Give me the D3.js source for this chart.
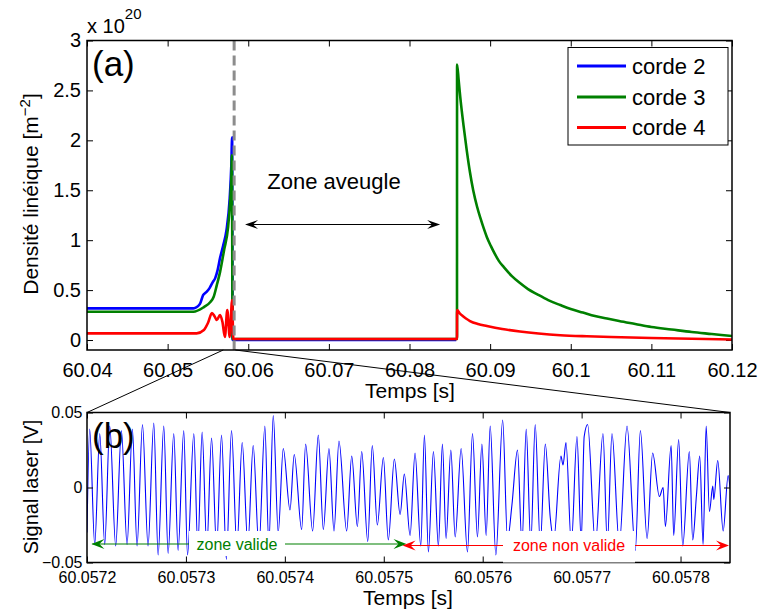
<!DOCTYPE html>
<html><head><meta charset="utf-8">
<script src="https://cdn.jsdelivr.net/npm/d3@7"></script>
<style>
body{margin:0;background:#fff;}
svg{display:block;font-family:"Liberation Sans",Arial,Helvetica,sans-serif;}
</style></head><body>
<svg id="c" width="764" height="615"></svg>
<script>
// ---------- DATA (panel a) ----------
const seriesNames = ["corde 2", "corde 3", "corde 4"];
const seriesColors = ["#0000ff", "#008000", "#ff0000"];
const c2Time = [60.04, 60.0532, 60.0540, 60.0544, 60.0548, 60.0552, 60.0556, 60.0559, 60.0562, 60.0565, 60.0569, 60.0573, 60.0577, 60.0579, 60.05800, 60.05806, 60.0858];
const c2Value = [0.317, 0.317, 0.36, 0.45, 0.48, 0.52, 0.58, 0.62, 0.70, 0.82, 0.95, 1.10, 1.42, 1.75, 2.03, 0.0, 0.0];
const c3Time = [60.04, 60.0532, 60.0545, 60.0553, 60.0557, 60.0561, 60.0565, 60.0570, 60.0575, 60.0578, 60.0579, 60.05797, 60.05806, 60.08589, 60.0859, 60.0861, 60.0863, 60.0867, 60.0871, 60.0875, 60.0879, 60.0884, 60.0888, 60.0892, 60.0896, 60.0901, 60.0906, 60.0911, 60.0917, 60.0927, 60.0937, 60.0947, 60.0958, 60.0972, 60.0987, 60.1000, 60.1015, 60.1030, 60.1045, 60.1060, 60.1080, 60.1100, 60.1125, 60.1150, 60.1175, 60.1200];
const c3Value = [0.283, 0.283, 0.33, 0.38, 0.43, 0.55, 0.68, 0.90, 1.13, 1.45, 1.62, 1.85, 0.01, 0.01, 2.76, 2.60, 2.43, 2.15, 1.90, 1.68, 1.50, 1.33, 1.22, 1.12, 1.03, 0.94, 0.86, 0.79, 0.73, 0.64, 0.57, 0.51, 0.46, 0.40, 0.35, 0.31, 0.275, 0.24, 0.215, 0.19, 0.16, 0.13, 0.105, 0.08, 0.06, 0.04];
const c4Time = [60.04, 60.0536, 60.0545, 60.0550, 60.0555, 60.0558, 60.0561, 60.0565, 60.0568, 60.0571, 60.0574, 60.0577, 60.05800, 60.05815, 60.08589, 60.0859, 60.0862, 60.0866, 60.0870, 60.0875, 60.0885, 60.0896, 60.0915, 60.0937, 60.0960, 60.0987, 60.1020, 60.1050, 60.1100, 60.1150, 60.1200];
const c4Value = [0.067, 0.067, 0.10, 0.17, 0.27, 0.24, 0.20, 0.25, 0.18, 0.03, 0.30, 0.03, 0.40, 0.01, 0.01, 0.30, 0.27, 0.24, 0.215, 0.19, 0.16, 0.14, 0.11, 0.085, 0.065, 0.048, 0.037, 0.03, 0.02, 0.012, 0.005];
const topXTicks = [60.04, 60.05, 60.06, 60.07, 60.08, 60.09, 60.10, 60.11, 60.12];
const topXTickLabels = ["60.04", "60.05", "60.06", "60.07", "60.08", "60.09", "60.1", "60.11", "60.12"];
const topYTicks = [0, 0.5, 1, 1.5, 2, 2.5, 3];
const topYTickLabels = ["0", "0.5", "1", "1.5", "2", "2.5", "3"];
const blindStart = 60.05825;         // dashed line
const blindArrow = [60.0596, 60.0838];
const zoomFrom = [60.0569, 60.0584]; // zoom window drawn on panel a

// ---------- DATA (panel b) ----------  time in µs after 60.0572 s
const sigTimeUs = [0.0, 2.7, 7.8, 12.9, 17.9, 23.0, 29.0, 34.8, 40.5, 45.9, 50.6, 56.1, 61.7, 67.5, 71.9, 77.6, 82.0, 87.7, 92.1, 97.8, 101.6, 108.0, 112.0, 116.4, 121.1, 125.9, 131.0, 136.0, 140.9, 146.1, 151.5, 156.9, 162.6, 168.0, 173.8, 179.8, 183.8, 188.3, 193.3, 198.4, 205.2, 209.5, 217.0, 221.0, 228.1, 233.8, 238.9, 244.6, 249.7, 254.7, 262.5, 267.6, 273.3, 277.7, 283.8, 288.4, 293.5, 299.6, 304.6, 310.7, 316.5, 320.8, 326.6, 331.6, 337.4, 341.1, 345.1, 350.2, 355.2, 359.3, 363.0, 367.8, 372.2, 378.2, 384.6, 389.7, 394.7, 399.2, 403.5, 407.6, 413.3, 420.2, 425.1, 429.5, 435.2, 439.7, 444.0, 448.6, 453.1, 458.2, 463.3, 468.3, 471.8, 479.1, 481.2, 484.2, 489.6, 495.3, 499.6, 502.6, 506.1, 513.9, 521.6, 526.0, 530.7, 538.1, 545.9, 554.3, 559.4, 566.2, 571.8, 578.6, 582.4, 584.7, 590.5, 593.1, 598.1, 602.2, 608.9, 612.3, 616.1, 619.4, 622.8, 625.9, 629.2, 632.6, 633.6, 637.6, 643.1, 648.1, 650.0];
const sigValue = [-0.030, 0.039, -0.038, 0.036, -0.038, 0.041, -0.039, 0.038, -0.038, 0.039, -0.039, 0.042, -0.039, 0.043, -0.045, 0.041, -0.044, 0.036, -0.042, 0.038, -0.045, 0.036, -0.040, 0.037, -0.040, 0.033, -0.040, 0.035, -0.048, 0.038, -0.040, 0.030, -0.038, 0.028, -0.040, 0.041, -0.038, 0.048, -0.030, 0.026, -0.015, 0.022, -0.028, 0.029, -0.029, 0.035, -0.028, 0.026, -0.029, 0.031, -0.029, 0.021, -0.026, 0.024, -0.036, 0.028, -0.025, 0.020, -0.035, 0.019, -0.018, 0.009, -0.032, 0.023, -0.039, 0.035, -0.043, 0.024, -0.039, 0.029, -0.034, 0.025, -0.033, 0.026, -0.043, 0.036, -0.033, 0.029, -0.032, 0.041, -0.045, 0.045, -0.035, -0.012, 0.025, -0.038, 0.039, -0.038, 0.042, -0.038, 0.029, -0.020, -0.035, 0.021, 0.015, 0.030, -0.038, 0.034, -0.036, 0.034, 0.042, -0.038, 0.036, -0.038, 0.036, -0.038, 0.041, -0.042, 0.038, -0.034, 0.023, -0.006, 0.000, -0.026, 0.028, -0.032, 0.032, -0.039, 0.024, -0.035, -0.005, 0.021, -0.038, 0.041, -0.016, 0.001, -0.008, 0.018, -0.029, 0.008, 0.000];
const botXTicks = [0, 100, 200, 300, 400, 500, 600];
const botXTickLabels = ["60.0572", "60.0573", "60.0574", "60.0575", "60.0576", "60.0577", "60.0578"];
const botYTicks = [-0.05, 0, 0.05];
const botYTickLabels = ["\u22120.05", "0", "0.05"];
const validZone = [0.4, 323];       // µs
const invalidZone = [319, 650];     // µs

// ---------- LAYOUT ----------
const svg = d3.select("#c");
const aL = 87, aR = 732, aT = 40.5, aB = 350;
const bL = 87, bR = 730, bT = 412.5, bB = 562.5;
const xA = d3.scaleLinear().domain([60.04, 60.12]).range([aL, aR]);
const yA = d3.scaleLinear().domain([-0.1, 3]).range([aB, aT]);
const xB = d3.scaleLinear().domain([0, 650]).range([bL, bR]);
const yB = d3.scaleLinear().domain([-0.05, 0.05]).range([bB, bT]);
const FONT = '"Liberation Sans",Arial,Helvetica,sans-serif';

const defs = svg.append("defs");
defs.append("clipPath").attr("id", "clipA").append("rect").attr("x", aL).attr("y", aT).attr("width", aR - aL).attr("height", aB - aT);
defs.append("clipPath").attr("id", "clipB").append("rect").attr("x", bL).attr("y", bT).attr("width", bR - bL).attr("height", bB - bT);

function styleAxis(g, fs) {
  g.attr("font-family", FONT).attr("font-size", fs);
  g.select(".domain").remove();
  g.selectAll(".tick line").attr("stroke", "#000").attr("stroke-width", 1);
  g.selectAll(".tick text").attr("fill", "#000");
}

// ---------- PANEL A ----------
const gA = svg.append("g");
gA.append("g").attr("transform", `translate(0,${aB})`)
  .call(d3.axisBottom(xA).tickValues(topXTicks).tickFormat((d, i) => topXTickLabels[i]).tickSizeInner(-6).tickSizeOuter(0).tickPadding(12.8))
  .call(g => styleAxis(g, 20));
gA.append("g").attr("transform", `translate(0,${aT})`)
  .call(d3.axisTop(xA).tickValues(topXTicks).tickFormat("").tickSizeInner(-6).tickSizeOuter(0))
  .call(g => styleAxis(g, 20));
gA.append("g").attr("transform", `translate(${aL},0)`)
  .call(d3.axisLeft(yA).tickValues(topYTicks).tickFormat((d, i) => topYTickLabels[i]).tickSizeInner(-6).tickSizeOuter(0).tickPadding(6))
  .call(g => styleAxis(g, 20));
gA.append("g").attr("transform", `translate(${aR},0)`)
  .call(d3.axisRight(yA).tickValues(topYTicks).tickFormat("").tickSizeInner(-6).tickSizeOuter(0))
  .call(g => styleAxis(g, 20));

const lineA = d3.line().x(d => xA(d[0])).y(d => yA(d[1])).curve(d3.curveMonotoneX);
const seriesData = [
  d3.zip(c2Time, c2Value),
  d3.zip(c3Time, c3Value),
  d3.zip(c4Time, c4Value)
];
const gLines = gA.append("g").attr("clip-path", "url(#clipA)");
seriesData.forEach((s, i) => {
  gLines.append("path").datum(s).attr("d", lineA).attr("fill", "none")
    .attr("stroke", seriesColors[i]).attr("stroke-width", 2.6).attr("stroke-linejoin", "round");
});

// dashed line
gA.append("line").attr("x1", xA(blindStart)).attr("x2", xA(blindStart)).attr("y1", aT).attr("y2", aB)
  .attr("stroke", "#8c8c8c").attr("stroke-width", 3).attr("stroke-dasharray", "10,5");

gA.append("rect").attr("x", aL).attr("y", aT).attr("width", aR - aL).attr("height", aB - aT)
  .attr("fill", "none").attr("stroke", "#000").attr("stroke-width", 1.5);

// arrowhead helper
function head(g, x, y, dir, color, len, wid) {
  g.append("path")
    .attr("d", `M${x},${y} L${x - dir * len},${y - wid / 2} L${x - dir * len * 0.62},${y} L${x - dir * len},${y + wid / 2} Z`)
    .attr("fill", color);
}

// zone aveugle
const yArrow = 224.5;
gA.append("line").attr("x1", xA(blindArrow[0]) + 4).attr("x2", xA(blindArrow[1]) - 4).attr("y1", yArrow).attr("y2", yArrow)
  .attr("stroke", "#000").attr("stroke-width", 1);
head(gA, xA(blindArrow[0]), yArrow, -1, "#000", 13, 9);
head(gA, xA(blindArrow[1]), yArrow, 1, "#000", 13, 9);
gA.append("text").attr("x", 334).attr("y", 189).attr("text-anchor", "middle")
  .attr("font-family", FONT).attr("font-size", 22).text("Zone aveugle");

// (a)
svg.append("text").attr("x", 92).attr("y", 76).attr("font-family", FONT).attr("font-size", 35).text("(a)");

// x 10^20
const ex = svg.append("text").attr("x", 87).attr("y", 33).attr("font-family", FONT).attr("font-size", 20);
ex.append("tspan").text("x 10");
ex.append("tspan").attr("font-size", 15).attr("dy", -14).text("20");

// axis labels panel a
svg.append("text").attr("x", 410).attr("y", 398).attr("text-anchor", "middle")
  .attr("font-family", FONT).attr("font-size", 21).text("Temps [s]");
const yl = svg.append("text").attr("transform", "translate(38,194) rotate(-90)").attr("text-anchor", "middle")
  .attr("font-family", FONT).attr("font-size", 21);
yl.append("tspan").text("Densité linéique [m");
yl.append("tspan").attr("font-size", 15).attr("dy", -8).text("\u22122");
yl.append("tspan").attr("dy", 8).text("]");

// legend
const lg = svg.append("g");
lg.append("rect").attr("x", 568).attr("y", 47.5).attr("width", 160).attr("height", 97.5)
  .attr("fill", "#fff").attr("stroke", "#000").attr("stroke-width", 1);
const legY = [66, 97, 127.5];
seriesNames.forEach((n, i) => {
  lg.append("line").attr("x1", 577).attr("x2", 626).attr("y1", legY[i]).attr("y2", legY[i])
    .attr("stroke", seriesColors[i]).attr("stroke-width", 3);
  lg.append("text").attr("x", 632).attr("y", legY[i]).attr("dy", "0.36em")
    .attr("font-family", FONT).attr("font-size", 22).text(n);
});

// zoom connector lines
svg.append("line").attr("x1", xA(zoomFrom[0])).attr("y1", aB).attr("x2", bL).attr("y2", bT).attr("stroke", "#000").attr("stroke-width", 1);
svg.append("line").attr("x1", xA(zoomFrom[1])).attr("y1", aB).attr("x2", bR).attr("y2", bT).attr("stroke", "#000").attr("stroke-width", 1);

// ---------- PANEL B ----------
const gB = svg.append("g");
gB.append("g").attr("clip-path", "url(#clipB)").append("path")
  .datum(d3.zip(sigTimeUs, sigValue))
  .attr("d", d3.line().x(d => xB(d[0])).y(d => yB(d[1])).curve(d3.curveMonotoneX))
  .attr("fill", "none").attr("stroke", "#0000ff").attr("stroke-width", 1.1);

gB.append("g").attr("transform", `translate(0,${bB})`)
  .call(d3.axisBottom(xB).tickValues(botXTicks).tickFormat((d, i) => botXTickLabels[i]).tickSizeInner(-6).tickSizeOuter(0).tickPadding(9))
  .call(g => styleAxis(g, 16));
gB.append("g").attr("transform", `translate(0,${bT})`)
  .call(d3.axisTop(xB).tickValues(botXTicks).tickFormat("").tickSizeInner(-6).tickSizeOuter(0))
  .call(g => styleAxis(g, 16));
gB.append("g").attr("transform", `translate(${bL},0)`)
  .call(d3.axisLeft(yB).tickValues(botYTicks).tickFormat((d, i) => botYTickLabels[i]).tickSizeInner(-6).tickSizeOuter(0).tickPadding(4.5))
  .call(g => styleAxis(g, 16));
gB.append("g").attr("transform", `translate(${bR},0)`)
  .call(d3.axisRight(yB).tickValues(botYTicks).tickFormat("").tickSizeInner(-6).tickSizeOuter(0))
  .call(g => styleAxis(g, 16));
gB.append("rect").attr("x", bL).attr("y", bT).attr("width", bR - bL).attr("height", bB - bT)
  .attr("fill", "none").attr("stroke", "#000").attr("stroke-width", 1.5);

// zone annotations
const yV = 544, yN = 545.5;
gB.append("rect").attr("x", 189).attr("y", 531).attr("width", 96).attr("height", 25).attr("fill", "#fff");
gB.append("rect").attr("x", 503).attr("y", 531).attr("width", 132).attr("height", bB - 531).attr("fill", "#fff");
const green = "#008000", red = "#ff0000";
gB.append("line").attr("x1", xB(validZone[0]) + 5).attr("x2", 189).attr("y1", yV).attr("y2", yV).attr("stroke", green).attr("stroke-width", 1.2);
gB.append("line").attr("x1", 285).attr("x2", xB(validZone[1]) - 5).attr("y1", yV).attr("y2", yV).attr("stroke", green).attr("stroke-width", 1.2);
head(gB, xB(validZone[0]) + 4, yV, -1, green, 13, 10);
head(gB, xB(validZone[1]), yV, 1, green, 13, 10);
gB.append("text").attr("x", 237).attr("y", yV).attr("dy", "0.35em").attr("text-anchor", "middle")
  .attr("font-family", FONT).attr("font-size", 16).attr("fill", green).text("zone valide");

gB.append("line").attr("x1", xB(invalidZone[0]) + 5).attr("x2", 503).attr("y1", yN).attr("y2", yN).attr("stroke", red).attr("stroke-width", 1.2);
gB.append("line").attr("x1", 635).attr("x2", xB(invalidZone[1]) - 5).attr("y1", yN).attr("y2", yN).attr("stroke", red).attr("stroke-width", 1.2);
head(gB, xB(invalidZone[0]), yN, -1, red, 13, 10);
head(gB, xB(invalidZone[1]) - 1, yN, 1, red, 13, 10);
gB.append("text").attr("x", 569).attr("y", yN).attr("dy", "0.35em").attr("text-anchor", "middle")
  .attr("font-family", FONT).attr("font-size", 16).attr("fill", red).text("zone non valide");

// (b)
svg.append("text").attr("x", 92).attr("y", 447.5).attr("font-family", FONT).attr("font-size", 35).text("(b)");

// axis labels panel b
svg.append("text").attr("x", 408).attr("y", 605).attr("text-anchor", "middle")
  .attr("font-family", FONT).attr("font-size", 21).text("Temps [s]");
svg.append("text").attr("transform", "translate(38,487) rotate(-90)").attr("text-anchor", "middle")
  .attr("font-family", FONT).attr("font-size", 20).text("Signal laser [V]");
</script>
</body></html>
